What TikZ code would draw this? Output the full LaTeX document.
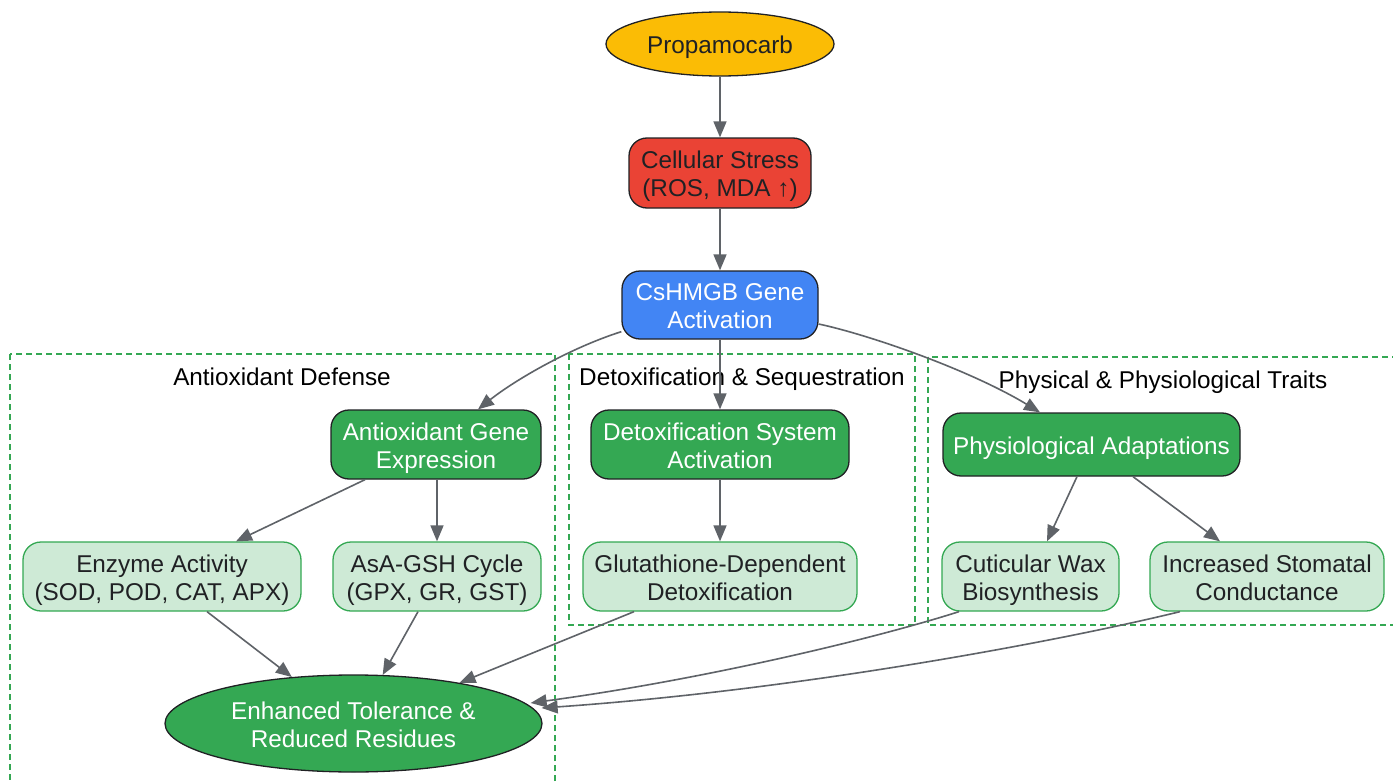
\documentclass[tikz,border=0pt]{standalone}
\usepackage{fontspec}
\setmainfont{Liberation Sans}
\usetikzlibrary{shapes.geometric,arrows.meta}
\definecolor{gyellow}{HTML}{FBBC05}
\definecolor{gred}{HTML}{EA4335}
\definecolor{gblue}{HTML}{4285F4}
\definecolor{ggreen}{HTML}{34A853}
\definecolor{glight}{HTML}{CEEAD6}
\definecolor{edgegray}{HTML}{5F6368}
\definecolor{darktext}{HTML}{202124}
\newcommand{\tl}{\rule{0pt}{25pt}}
\newcommand{\bl}{\rule[-6pt]{0pt}{0pt}}
\tikzset{
  base/.style={font=\fontsize{24.3}{28}\selectfont, align=center, inner sep=0pt, line width=1.3pt},
  rbox/.style={base, rectangle, rounded corners=18pt, draw=darktext},
  darkbox/.style={rbox, fill=ggreen, text=white},
  lightbox/.style={rbox, fill=glight, draw=ggreen, text=darktext},
  oval/.style={base, ellipse, draw=darktext},
  cluster/.style={draw=ggreen, line width=1.3pt, dash pattern=on 6pt off 4pt},
  clabel/.style={font=\fontsize{24.3}{28}\selectfont, text=black, inner sep=0pt, text height=21pt, text depth=5pt},
  conn/.style={draw=edgegray, line width=1.6pt, -{Triangle[length=16pt,width=13pt]}}
}
\begin{document}
\begin{tikzpicture}[x=1pt,y=-1pt]
\useasboundingbox (0,0) rectangle (1393,784);
\clip (0,0) rectangle (1393,784);
\fill[white] (0,0) rectangle (1393,784);
% clusters
\draw[cluster] (10,354) rectangle (555,800);
\draw[cluster] (569,354) rectangle (915,625);
\draw[cluster] (928,357) rectangle (1410,625);
\node[clabel] (lab1) at (282,377) {Antioxidant Defense};
\node[clabel] (lab2) at (742,377) {Detoxification \& Sequestration};
\node[clabel] (lab3) at (1163,380) {Physical \& Physiological Traits};
% nodes
\node[oval, fill=gyellow, text=darktext, minimum width=228pt, minimum height=64pt] (prop) at (720,44) {\tl Propamocarb\bl};
\node[rbox, fill=gred, text=darktext, minimum width=182pt, minimum height=70pt] (cell) at (720,173) {\tl Cellular Stress\\(ROS, MDA ↑)\bl};
\node[rbox, fill=gblue, text=white, minimum width=196pt, minimum height=68pt] (hmgb) at (720,305) {\tl CsHMGB Gene\\Activation\bl};
\node[darkbox, minimum width=210pt, minimum height=69pt] (age) at (436,444.5) {\tl Antioxidant Gene\\Expression\bl};
\node[darkbox, minimum width=258pt, minimum height=69pt] (dsa) at (720,444.5) {\tl Detoxification System\\Activation\bl};
\node[darkbox, minimum width=297pt, minimum height=63pt] (pa) at (1091.5,444.5) {\tl Physiological Adaptations\bl};
\node[lightbox, minimum width=278pt, minimum height=69pt] (enz) at (162,576.5) {\tl Enzyme Activity\\(SOD, POD, CAT, APX)\bl};
\node[lightbox, minimum width=208pt, minimum height=69pt] (asa) at (437,576.5) {\tl AsA-GSH Cycle\\(GPX, GR, GST)\bl};
\node[lightbox, minimum width=274pt, minimum height=69pt] (glut) at (720,576.5) {\tl Glutathione-Dependent\\Detoxification\bl};
\node[lightbox, minimum width=177pt, minimum height=69pt] (cut) at (1030.5,576.5) {\tl Cuticular Wax\\Biosynthesis\bl};
\node[lightbox, minimum width=234pt, minimum height=69pt] (sto) at (1267,576.5) {\tl Increased Stomatal\\Conductance\bl};
\node[oval, fill=ggreen, text=white, minimum width=377pt, minimum height=97pt] (enh) at (353.5,723.5) {\tl Enhanced Tolerance \&\\Reduced Residues\bl};
% connectors
\draw[conn] (prop) -- (cell);
\draw[conn] (cell) -- (hmgb);
\draw[conn] (hmgb) -- (dsa);
\draw[conn] (dsa) -- (glut);
\draw[conn] ([yshift=8pt]hmgb.south west) .. controls (570,348) and (515,380) .. ([xshift=42pt]age.north);
\draw[conn] ([yshift=-19pt]hmgb.east) .. controls (870,335) and (970,370) .. ([xshift=-51.5pt]pa.north);
\draw[conn] ([xshift=-71pt]age.south) -- ([xshift=74pt]enz.north);
\draw[conn] ([xshift=1pt]age.south) -- (asa.north);
\draw[conn] ([xshift=-14.5pt]pa.south) -- ([xshift=16.5pt]cut.north);
\draw[conn] ([xshift=41.5pt]pa.south) -- ([xshift=-47pt]sto.north);
\draw[conn] ([xshift=45pt]enz.south) -- (enh.143);
\draw[conn] ([xshift=-19pt]asa.south) -- (enh.59);
\draw[conn] ([xshift=-86pt]glut.south) -- (enh.21);
\draw[conn] ([xshift=-71.5pt]cut.south) .. controls (870,640) and (700,680) .. ([xshift=-12pt,yshift=20.5pt]enh.east);
\draw[conn] ([xshift=-87pt]sto.south) .. controls (1060,641) and (800,690) .. ([xshift=-1pt,yshift=15.5pt]enh.east);
\end{tikzpicture}
\end{document}
